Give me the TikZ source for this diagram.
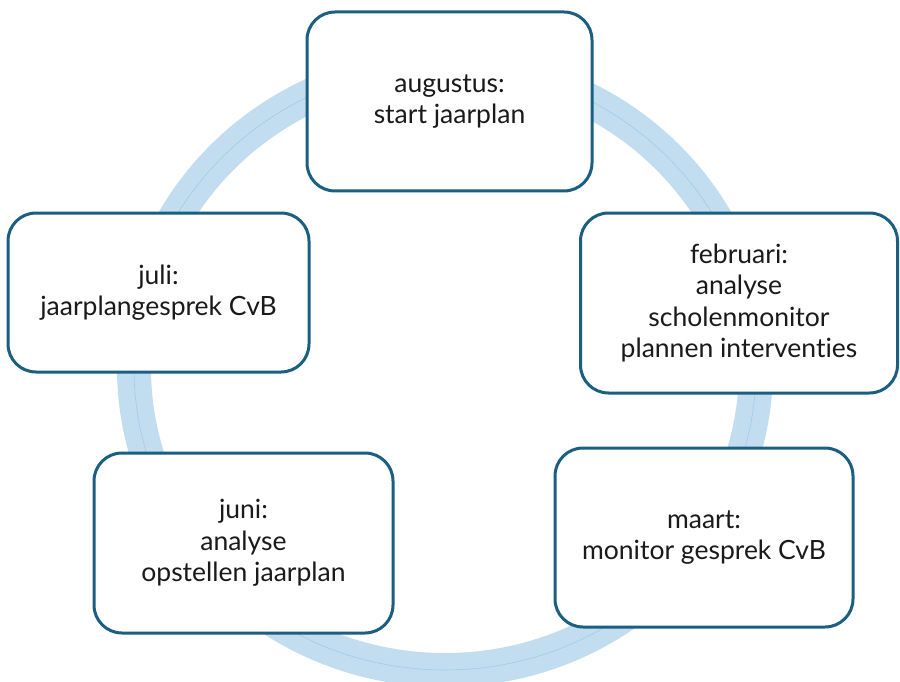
\documentclass[tikz,border=0pt]{standalone}
\usepackage{fontspec}
\setmainfont{Lato}[Ligatures=CommonOff]
\definecolor{ringblue}{HTML}{C2DDF0}
\definecolor{ringline}{HTML}{A5CAE6}
\definecolor{boxborder}{HTML}{1A5F82}
\definecolor{txt}{HTML}{1A1A1A}
\tikzset{
  stagebox/.style={draw=boxborder, line width=3pt, fill=white, rounded corners=28pt,
    align=center, text=txt, font=\fontsize{26.5}{31.5}\selectfont, inner sep=0pt}
}
\begin{document}
\begin{tikzpicture}[x=1pt,y=-1pt]
\useasboundingbox (0,0) rectangle (900,682);
% ring
\draw[ringblue, line width=34pt] (445,368) ellipse [x radius=311pt, y radius=302pt];
\draw[ringline, line width=0.6pt] (445,368) ellipse [x radius=311pt, y radius=302pt];
% boxes
\node[stagebox, minimum width=285pt, minimum height=179pt] (aug) at (449.5,101.5) {augustus:\\start jaarplan};
\node[stagebox, minimum width=301pt, minimum height=159pt] (jul) at (158.5,292.5) {juli:\\jaarplangesprek CvB};
\node[stagebox, minimum width=317pt, minimum height=180pt] (feb) at (739,303) {februari:\\analyse\\scholenmonitor\\plannen interventies};
\node[stagebox, minimum width=298pt, minimum height=179pt] (maa) at (704,537.5) {maart:\\monitor gesprek CvB};
\node[stagebox, minimum width=299pt, minimum height=180pt] (jun) at (243.5,543) {juni:\\analyse\\opstellen jaarplan};
\end{tikzpicture}
\end{document}
